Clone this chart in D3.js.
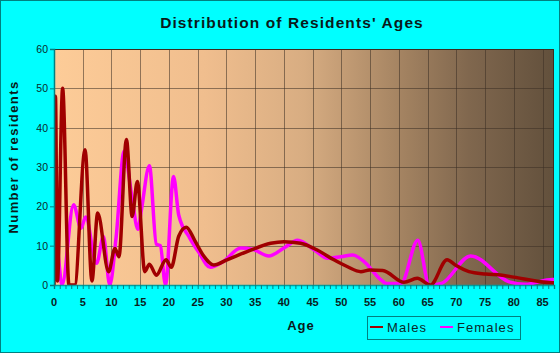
<!DOCTYPE html>
<html>
<head>
<meta charset="utf-8">
<script src="https://cdn.jsdelivr.net/npm/d3@7"></script>
<style>
    body { margin: 0; background: #00ffff; }
    svg { display: block; font-family: "Liberation Sans", Arial, sans-serif; }
</style>
</head>
<body>
<svg id="chart" width="560" height="353"></svg>
<script>
// values
const maleAges = [0, 0.25, 0.6, 1.5, 2.6, 3.6, 5.4, 6.6, 7.6, 9.5, 10.6, 11.3, 12.6, 13.6, 14.5, 15.8,
    16.6, 17.8, 19.5, 20.4, 21.7, 23.0, 24.5, 26.0, 27.8, 30.1, 33.6, 37.7, 40.0, 42.9, 45.8, 48.7,
    51.0, 53.4, 54.9, 57.2, 60.9, 63.2, 65.5, 68.4, 69.9, 72.2, 75.1, 78.0, 80.0, 86.7, 87];
const maleCounts = [0, 48, 1, 50, 0, 0, 34.4, 1, 18.3, 3.4, 9.3, 7.2, 37, 17.4, 26.3, 3.4,
    5.3, 2.5, 6.4, 4.5, 12.4, 14.7, 11.3, 7.5, 5.1, 6.4, 8.5, 10.6, 11, 10.6, 8.9, 6.4,
    4.7, 3.4, 3.8, 3.7, 0.7, 1.7, 0, 6.4, 5, 3.4, 2.8, 2.5, 2.0, 0.6, 0.6];

const femaleAges = [0, 0.5, 1.4, 3.4, 4.7, 5.5, 7.4, 8.6, 9.7, 10.8, 12.2, 13.5, 14.6, 15.2, 16.6, 17.8,
    18.5, 19.4, 20.8, 21.7, 23.6, 25.2, 27.2, 29.5, 32.5, 34.5, 37.4, 40.0, 42.4, 45.3, 47.6, 49.9,
    52.0, 54.0, 56.9, 57.8, 60.4, 63.3, 65.3, 67.4, 72.5, 79.2, 82.0, 86.7, 87];
const femaleCounts = [1, 9, 0, 20.4, 14.4, 17.3, 5.5, 12.3, 0, 12, 34, 23, 14.2, 19, 30.3, 10.4,
    10, 0, 27.6, 17.8, 12, 8.3, 4.5, 6, 9.4, 9.1, 7.4, 9.4, 11.4, 8.9, 6.8, 7.2,
    7.6, 5.9, 1.3, 0.4, 0.4, 11.4, 0, 0.4, 7.4, 0.8, 0.2, 1.4, 1.4];

const xTicks = d3.range(0, 90, 5);
const yTicks = d3.range(0, 70, 10);

const series = [
    { name: 'Males', ages: maleAges, counts: maleCounts, color: '#a00000' },
    { name: 'Females', ages: femaleAges, counts: femaleCounts, color: '#ff00ff' }
];

class AgeChart {
    constructor(container) {
        this.svg = d3.select(container);
        this.layout();
        this.render();
    }

    layout() {
        this.width = 560;
        this.height = 353;
        this.margin = { top: 49, right: 5, bottom: 68, left: 54 };

        this.x = d3.scaleLinear()
            .domain([0, 87])
            .range([this.margin.left, this.width - this.margin.right - 1]);
        this.y = d3.scaleLinear()
            .domain([0, 60])
            .range([this.height - this.margin.bottom, this.margin.top]);
    }

    render() {
        const [x0, x1] = this.x.range();
        const [y0, y1] = this.y.range();

        // outer frame
        this.svg.append('rect')
            .attr('x', 0.5).attr('y', 0.5)
            .attr('width', this.width - 1).attr('height', this.height - 1)
            .attr('fill', '#00ffff')
            .attr('stroke', '#008080');

        const defs = this.svg.append('defs');
        const grad = defs.append('linearGradient')
            .attr('id', 'bg')
            .attr('x1', 0).attr('x2', 1).attr('y1', 0).attr('y2', 0);
        [[0, '#fdcc98'], [0.3, '#f0be8e'], [0.5, '#d8ad82'], [0.69, '#a58462'],
         [0.83, '#80674e'], [1, '#62503c']].forEach(([o, c]) => {
            grad.append('stop').attr('offset', o).attr('stop-color', c);
        });
        defs.append('clipPath').attr('id', 'plot-clip')
            .append('rect')
            .attr('x', x0).attr('y', y1 - 2)
            .attr('width', x1 - x0).attr('height', y0 - y1 + 2);

        this.svg.append('rect')
            .attr('x', x0).attr('y', y1)
            .attr('width', x1 - x0).attr('height', y0 - y1)
            .attr('fill', 'url(#bg)');

        // grid
        const grid = this.svg.append('g')
            .attr('stroke', '#3c3024')
            .attr('stroke-opacity', 0.55)
            .attr('shape-rendering', 'crispEdges');
        grid.selectAll('line.v')
            .data(xTicks.filter(d => d > 0))
            .enter()
            .append('line')
            .attr('class', 'v')
            .attr('x1', d => Math.round(this.x(d)) + 0.5)
            .attr('x2', d => Math.round(this.x(d)) + 0.5)
            .attr('y1', y1).attr('y2', y0);
        grid.selectAll('line.h')
            .data(yTicks.filter(d => d > 0))
            .enter()
            .append('line')
            .attr('class', 'h')
            .attr('x1', x0).attr('x2', x1)
            .attr('y1', d => Math.round(this.y(d)) + 0.5)
            .attr('y2', d => Math.round(this.y(d)) + 0.5);

        // top and right edges of the plot
        this.svg.append('path')
            .attr('d', `M${x0},${y1 + 0.5}H${x1 - 0.5}V${y0}`)
            .attr('fill', 'none')
            .attr('stroke', '#3a2e22')
            .attr('stroke-width', 1);

        // lines
        const line = d3.line()
            .x(d => this.x(d[0]))
            .y(d => this.y(d[1]))
            .curve(d3.curveMonotoneX);

        this.svg.append('g')
            .attr('clip-path', 'url(#plot-clip)')
            .selectAll('path')
            .data(series.slice().reverse())
            .enter()
            .append('path')
            .attr('fill', 'none')
            .attr('stroke', d => d.color)
            .attr('stroke-width', 3.5)
            .attr('stroke-linejoin', 'round')
            .attr('d', d => line(d.ages.map((a, i) => [a, d.counts[i]])));

        // axes
        const xAxis = this.svg.append('g')
            .attr('transform', `translate(0,${y0})`)
            .call(d3.axisBottom(this.x)
                .tickValues(d3.range(0, 88, 1))
                .tickSize(4)
                .tickFormat(''));
        xAxis.select('.domain').attr('stroke', '#00a0a0').attr('stroke-width', 1.5);
        xAxis.selectAll('.tick line').attr('stroke', '#008080');

        this.svg.append('g')
            .selectAll('text')
            .data(xTicks)
            .enter()
            .append('text')
            .attr('x', d => this.x(d))
            .attr('y', y0 + 21)
            .attr('text-anchor', 'middle')
            .attr('font-size', 11)
            .attr('font-weight', 'bold')
            .attr('fill', '#0a1e1e')
            .text(d => d);

        const yAxis = this.svg.append('g')
            .attr('transform', `translate(${x0},0)`)
            .call(d3.axisLeft(this.y)
                .tickValues(yTicks)
                .tickSize(4)
                .tickPadding(2));
        yAxis.select('.domain').attr('stroke', '#008080').attr('stroke-width', 1.5);
        yAxis.selectAll('.tick line').attr('stroke', '#008080');
        yAxis.selectAll('.tick text')
            .attr('font-size', 10.5)
            .attr('font-family', '"Liberation Sans", Arial, sans-serif')
            .attr('fill', '#0a2a2a');

        // titles
        this.svg.append('text')
            .attr('x', 292).attr('y', 28)
            .attr('text-anchor', 'middle')
            .attr('font-size', 15.5)
            .attr('font-weight', 'bold')
            .attr('letter-spacing', 1.1)
            .attr('fill', '#0a1a1a')
            .text("Distribution of Residents' Ages");

        this.svg.append('text')
            .attr('x', 301).attr('y', 330)
            .attr('text-anchor', 'middle')
            .attr('font-size', 13)
            .attr('font-weight', 'bold')
            .attr('letter-spacing', 1)
            .attr('fill', '#0a1a1a')
            .text('Age');

        this.svg.append('text')
            .attr('transform', 'translate(18,157) rotate(-90)')
            .attr('text-anchor', 'middle')
            .attr('font-size', 13)
            .attr('font-weight', 'bold')
            .attr('letter-spacing', 1.4)
            .attr('fill', '#0a1a1a')
            .text('Number of residents');

        this.renderLegend();
    }

    renderLegend() {
        const legend = this.svg.append('g');
        legend.append('rect')
            .attr('x', 367.5).attr('y', 316.5)
            .attr('width', 153).attr('height', 23)
            .attr('fill', 'none')
            .attr('stroke', '#008080');

        const offsets = [370, 440];
        const items = legend.selectAll('g')
            .data(series)
            .enter()
            .append('g')
            .attr('transform', (d, i) => `translate(${offsets[i]},0)`);
        items.append('line')
            .attr('x1', 0).attr('x2', 13)
            .attr('y1', 327).attr('y2', 327)
            .attr('stroke', d => d.color)
            .attr('stroke-width', 2);
        items.append('text')
            .attr('x', 17).attr('y', 332)
            .attr('font-size', 13)
            .attr('letter-spacing', 1.1)
            .attr('fill', '#0a2a2a')
            .text(d => d.name);
    }
}

new AgeChart('#chart');
</script>
</body>
</html>
